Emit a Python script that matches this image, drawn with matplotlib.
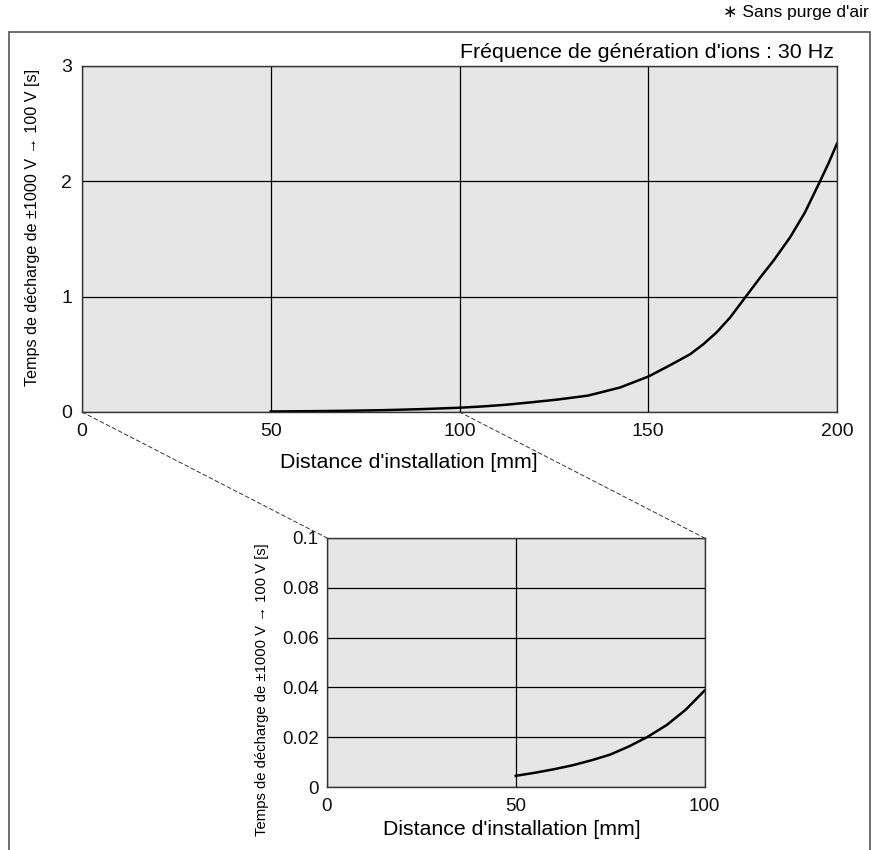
import matplotlib.pyplot as plt
from matplotlib.patches import ConnectionPatch, Rectangle

# data
dist_mm = [50, 60, 70, 80, 90, 100, 106, 112, 119, 126, 134, 142.5, 150, 155.8,
           161.1, 164.6, 168.1, 171.7, 175.7, 179.7, 183.2, 187.6, 191.5,
           195.5, 197.8, 200]
time_s = [0.0045, 0.007, 0.0105, 0.016, 0.025, 0.037, 0.048, 0.062, 0.084, 0.108,
          0.142, 0.212, 0.307, 0.406, 0.501, 0.588, 0.690, 0.820, 0.994, 1.168,
          1.313, 1.516, 1.73, 2.0, 2.16, 2.327]

zoom_mm = [50, 55, 60, 65, 70, 75, 80, 85, 90, 95, 100]
zoom_s = [0.0045, 0.0057, 0.0071, 0.0087, 0.0107, 0.013, 0.0163, 0.0202, 0.0249,
          0.031, 0.0387]

main_xticks = [0, 50, 100, 150, 200]
main_yticks = [0, 1, 2, 3]
zoom_xticks = [0, 50, 100]
zoom_yticks = [0, 0.02, 0.04, 0.06, 0.08, 0.1]
zoom_ylabels = ['0', '0.02', '0.04', '0.06', '0.08', '0.1']

ylabel = 'Temps de décharge de ±1000 V → 100 V [s]'
xlabel = "Distance d'installation [mm]"

plt.rcParams['font.family'] = ['Liberation Sans', 'DejaVu Sans']

W, H = 871, 850
fig = plt.figure(figsize=(W / 100, H / 100), dpi=100)

bg = '#e6e6e6'
spine_col = '#333333'


def style(ax, fs):
    ax.set_facecolor(bg)
    for s in ax.spines.values():
        s.set_color(spine_col)
        s.set_linewidth(1.0)
    ax.tick_params(length=0, labelsize=fs, colors='#111111')
    ax.grid(True, color='black', linewidth=0.9)
    ax.set_axisbelow(True)


# main chart
ax = fig.add_axes([82 / W, 1 - 412 / H, (837 - 82) / W, (412 - 66) / H])
style(ax, 14)
ax.plot(dist_mm, time_s, color='black', linewidth=1.8)
ax.set_xlim(0, 200)
ax.set_ylim(0, 3)
ax.set_xticks(main_xticks)
ax.set_yticks(main_yticks)
ax.tick_params(axis='y', pad=7)
ax.tick_params(axis='x', pad=8)
ax.set_xlabel(xlabel, fontsize=15.3, va='top')
ax.xaxis.set_label_coords(0.433, -0.118)
ax.set_ylabel(ylabel, fontsize=11.6, va='center')
ax.yaxis.set_label_coords(-0.065, 0.532)

# zoomed chart
ax2 = fig.add_axes([327 / W, 1 - 787 / H, (704.5 - 327) / W, (787 - 538) / H])
style(ax2, 13.5)
ax2.plot(zoom_mm, zoom_s, color='black', linewidth=1.8)
ax2.set_xlim(0, 100)
ax2.set_ylim(0, 0.1)
ax2.set_xticks(zoom_xticks)
ax2.set_yticks(zoom_yticks)
ax2.set_yticklabels(zoom_ylabels)
ax2.tick_params(axis='y', pad=6)
ax2.tick_params(axis='x', pad=8)
ax2.set_xlabel(xlabel, fontsize=15.3, va='top')
ax2.xaxis.set_label_coords(0.49, -0.133)
ax2.set_ylabel(ylabel, fontsize=10.7, va='center')
ax2.yaxis.set_label_coords(-0.172, 0.39)

# dashed links from the main chart to the zoom
for xa, xb in [(0, 0), (100, 1)]:
    con = ConnectionPatch(xyA=(xa, 0), coordsA=ax.transData,
                          xyB=(xb, 1), coordsB=ax2.transAxes,
                          linestyle=(0, (4, 3)), linewidth=0.7, color='#333333')
    fig.add_artist(con)

# outer frame
fig.add_artist(Rectangle((8.5 / W, -0.01), (869.5 - 8.5) / W, 1 - 32 / H + 0.01,
                         transform=fig.transFigure, fill=False,
                         edgecolor='#555555', linewidth=1.2))

fig.text(834 / W, 1 - 58 / H, "Fréquence de génération d'ions : 30 Hz",
         ha='right', va='baseline', fontsize=15.4)
fig.text(869 / W, 1 - 13 / H, "∗ Sans purge d'air", ha='right', va='center',
         fontsize=12.5)

fig.savefig('out.png', dpi=100)
